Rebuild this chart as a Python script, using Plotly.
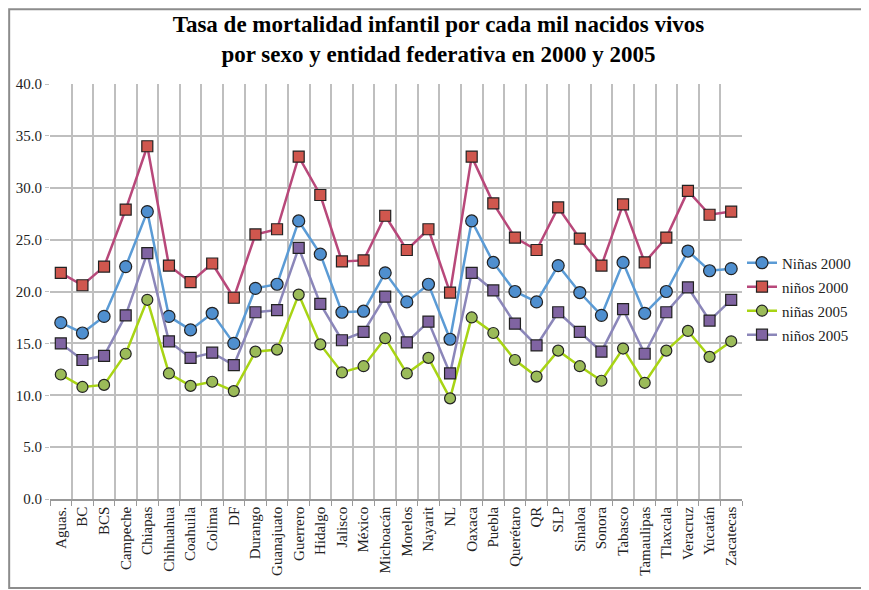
import plotly.graph_objects as go

# Entidades federativas
entidades = ["Aguas.", "BC", "BCS", "Campeche", "Chiapas", "Chihuahua", "Coahuila",
             "Colima", "DF", "Durango", "Guanajuato", "Guerrero", "Hidalgo", "Jalisco",
             "México", "Michoacán", "Morelos", "Nayarit", "NL", "Oaxaca", "Puebla",
             "Querétaro", "QR", "SLP", "Sinaloa", "Sonora", "Tabasco", "Tamaulipas",
             "Tlaxcala", "Veracruz", "Yucatán", "Zacatecas"]

# Tasas por cada mil nacidos vivos
ninas_2000 = [17.0, 16.0, 17.6, 22.4, 27.7, 17.6, 16.3, 17.9, 15.0, 20.3, 20.7, 26.8,
              23.6, 18.0, 18.1, 21.8, 19.0, 20.7, 15.4, 26.8, 22.8, 20.0, 19.0, 22.5,
              19.9, 17.7, 22.8, 17.9, 20.0, 23.9, 22.0, 22.2]
ninos_2000 = [21.8, 20.6, 22.4, 27.9, 34.0, 22.5, 20.9, 22.7, 19.4, 25.5, 26.0, 33.0,
              29.3, 22.9, 23.0, 27.3, 24.0, 26.0, 19.9, 33.0, 28.5, 25.2, 24.0, 28.1,
              25.1, 22.5, 28.4, 22.8, 25.2, 29.7, 27.4, 27.7]
ninas_2005 = [12.0, 10.8, 11.0, 14.0, 19.2, 12.1, 10.9, 11.3, 10.4, 14.2, 14.4, 19.7,
              14.9, 12.2, 12.8, 15.5, 12.1, 13.6, 9.7, 17.5, 16.0, 13.4, 11.8, 14.3,
              12.8, 11.4, 14.5, 11.2, 14.3, 16.2, 13.7, 15.2]
ninos_2005 = [15.0, 13.4, 13.8, 17.7, 23.7, 15.2, 13.6, 14.1, 12.9, 18.0, 18.2, 24.2,
              18.8, 15.3, 16.1, 19.5, 15.1, 17.1, 12.1, 21.8, 20.1, 16.9, 14.8, 18.0,
              16.1, 14.2, 18.3, 14.0, 18.0, 20.4, 17.2, 19.2]

serif = "Liberation Serif, Times New Roman, serif"

series = [
    ("Niñas 2000", ninas_2000, "#5B9BD5", "#4F8FCF", "circle", 12),
    ("niños 2000", ninos_2000, "#B8487A", "#D0574E", "square", 11),
    ("niñas 2005", ninas_2005, "#A8D414", "#9BBB59", "circle", 11),
    ("niños 2005", ninos_2005, "#8B86B9", "#8064A2", "square", 11),
]

fig = go.Figure()
for nombre, valores, color_linea, color_marca, simbolo, tam in series:
    fig.add_trace(go.Scatter(
        x=entidades, y=valores, name=nombre, legendgroup=nombre,
        mode="lines+markers",
        line=dict(color=color_linea, width=2.5),
        marker=dict(symbol=simbolo, size=tam, color=color_marca,
                    line=dict(color="#222222", width=1.2)),
    ))

# la página tiene 8px de margen, así que la figura es algo más pequeña
fig.update_layout(
    width=861, height=582,
    paper_bgcolor="white", plot_bgcolor="white",
    margin=dict(l=42, r=127, t=76, b=91, autoexpand=False),
    title=dict(
        text="Tasa de mortalidad infantil por cada mil nacidos vivos<br>por sexo y entidad federativa en 2000 y 2005",
        x=0.5, xanchor="center", y=0.958, yanchor="top",
        font=dict(family=serif, size=23, color="black", weight="bold"),
    ),
    font=dict(family=serif, size=15, color="#222222"),
    legend=dict(x=1.0, xanchor="left", y=0.482, yanchor="middle",
                font=dict(family=serif, size=15, color="#222222"),
                tracegroupgap=1.5, itemwidth=30),
    xaxis=dict(
        type="category", tickson="boundaries", tickangle=-90,
        range=[-0.5, 31.5], automargin=False,
        showgrid=True, gridcolor="#BFBFBF", gridwidth=1.5,
        ticks="outside", ticklen=5, tickcolor="#999999",
        showline=True, linecolor="#999999", linewidth=1.5,
        tickfont=dict(family=serif, size=15, color="#222222"),
    ),
    yaxis=dict(
        range=[0, 40], dtick=5, tickformat=".1f", automargin=False,
        showgrid=True, gridcolor="#BFBFBF", gridwidth=1.5,
        zeroline=False, ticks="outside", ticklen=4, tickcolor="#BFBFBF",
        tickfont=dict(family=serif, size=15, color="#222222"),
    ),
)

# Marco exterior del gráfico
fig.add_shape(type="rect", xref="paper", yref="paper",
              x0=-0.059, x1=1.179, y0=-0.2145, y1=1.18,
              line=dict(color="#8C8C8C", width=2))

fig.write_html("out.html")
